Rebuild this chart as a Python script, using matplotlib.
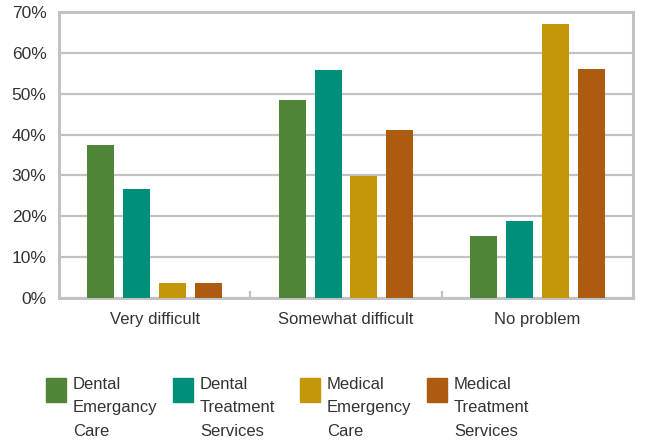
import numpy as np
import matplotlib
matplotlib.use("Agg")
from matplotlib import pyplot as plt
from matplotlib.patches import Rectangle

categories = ["Very difficult", "Somewhat difficult", "No problem"]
series_names = ["Dental\nEmergancy\nCare", "Dental\nTreatment\nServices",
                "Medical\nEmergency\nCare", "Medical\nTreatment\nServices"]
dental_emergency = [37.4, 48.4, 15.2]
dental_treatment = [26.8, 55.7, 18.8]
medical_emergency = [3.7, 29.8, 67.0]
medical_treatment = [3.7, 41.1, 56.0]
colors = ["#508537", "#008f7a", "#c39707", "#ae5b12"]

series = [dental_emergency, dental_treatment, medical_emergency, medical_treatment]
grid_col = "#c2c2c6"
txt_col = "#333333"

fig = plt.figure(figsize=(6.49, 4.42), dpi=100)
ax = fig.add_axes([59 / 649, 1 - 298 / 442, 574 / 649, 286 / 442])

x = np.arange(len(categories))
width = 0.141
step = 0.188
for i, vals in enumerate(series):
    ax.bar(x + (i - 1.5) * step, vals, width, color=colors[i], zorder=3)

ax.set_xlim(-0.5, 2.5)
ax.set_ylim(0, 70)
ax.set_yticks(range(0, 71, 10))
ax.set_yticklabels([f"{v}%" for v in range(0, 71, 10)], fontsize=12.5,
                   color=txt_col, family="Liberation Sans")
ax.yaxis.grid(True, color=grid_col, linewidth=1.6, zorder=0)
ax.tick_params(axis="y", length=0, pad=9)

# category labels, with small ticks between the groups
ax.set_xticks(x)
ax.set_xticklabels(categories, fontsize=12, color=txt_col, family="Liberation Sans")
ax.set_xticks([0.5, 1.5], minor=True)
ax.tick_params(axis="x", which="major", length=0, pad=10)
ax.tick_params(axis="x", which="minor", direction="in", length=5,
               width=1.6, color=grid_col)

for sp in ax.spines.values():
    sp.set_color(grid_col)
    sp.set_linewidth(2.2)

# legend drawn as separate swatches and text
lx = [46, 173, 300, 427]
for i, name in enumerate(series_names):
    fig.add_artist(Rectangle((lx[i] / 649, 1 - 402 / 442), 20 / 649, 24 / 442,
                             transform=fig.transFigure, color=colors[i]))
    fig.text((lx[i] + 27) / 649, 1 - 377 / 442, name, fontsize=12, color=txt_col,
             family="Liberation Sans", va="top", ha="left", linespacing=1.7)

fig.savefig("out.png", dpi=100, facecolor="white")
